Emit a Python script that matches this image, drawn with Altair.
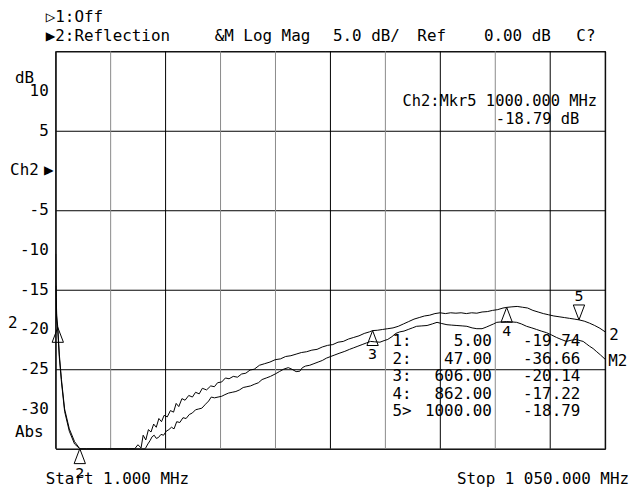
import altair as alt
import pandas as pd

# ---------------- data ----------------
# Data trace "2" (upper curve)
trace_mhz = [1, 1.5, 2, 3, 5, 8, 12, 18, 27, 37, 47, 60, 80, 100, 120, 140, 152, 158, 164, 168,
             173, 178, 183, 188, 193, 198, 203, 208, 214, 220, 226, 231, 236, 242, 248, 255, 262,
             268, 275, 281, 289, 297, 304, 310, 318, 325, 332, 340, 348, 356, 364, 372, 380, 390,
             400, 410, 420, 430, 440, 450, 460, 470, 480, 490, 500, 510, 520, 530, 540, 550, 560,
             570, 580, 590, 600, 606, 615, 625, 635, 645, 655, 665, 675, 685, 695, 705, 715, 725,
             735, 745, 755, 765, 775, 785, 795, 805, 815, 825, 835, 845, 855, 862, 872, 882, 892,
             902, 912, 922, 932, 942, 952, 962, 972, 982, 992, 1000, 1010, 1020, 1030, 1040, 1050]
trace_db = [-10.5, -14.0, -16.0, -18.3, -19.74, -23.2, -26.3, -30.0, -32.5, -34.1, -36.66, -38.5,
            -40.0, -41.0, -39.0, -37.0, -35.3, -34.5, -34.9, -33.3, -33.9, -32.6, -32.9, -31.9,
            -32.3, -31.2, -31.6, -30.8, -31.0, -30.2, -30.4, -29.3, -29.7, -28.7, -28.9, -28.3,
            -28.5, -27.9, -28.1, -27.4, -27.6, -27.1, -27.2, -26.7, -26.6, -26.1, -26.2, -25.9,
            -26.0, -25.6, -25.5, -25.1, -25.0, -24.5, -24.3, -24.1, -23.8, -23.7, -23.4, -23.3,
            -23.1, -22.9, -22.8, -22.6, -22.5, -22.2, -22.0, -21.9, -21.6, -21.5, -21.2, -21.0,
            -20.8, -20.5, -20.3, -20.14, -20.1, -20.0, -19.9, -19.8, -19.6, -19.3, -19.0, -18.7,
            -18.5, -18.3, -18.2, -18.0, -17.9, -18.0, -17.9, -17.95, -17.9, -18.0, -17.9, -17.95,
            -17.8, -17.75, -17.6, -17.5, -17.3, -17.22, -17.15, -17.1, -17.2, -17.3, -17.6, -17.8,
            -18.0, -18.15, -18.3, -18.4, -18.5, -18.6, -18.7, -18.79, -18.95, -19.2, -19.5,
            -19.85, -20.3]

# Memory trace "M2" (lower curve)
mem_mhz = [1, 2, 3, 5, 8, 12, 18, 27, 37, 47, 60, 100, 140, 165, 172, 177, 181, 185, 189, 193,
           197, 202, 207, 212, 217, 222, 227, 232, 238, 244, 250, 256, 262, 268, 274, 280, 287,
           293, 298, 304, 311, 318, 324, 331, 338, 345, 352, 359, 366, 373, 380, 388, 395, 403,
           411, 420, 428, 436, 445, 452, 460, 467, 472, 478, 486, 494, 502, 510, 518, 526, 534,
           542, 553, 562, 570, 578, 586, 594, 602, 610, 620, 628, 635, 643, 650, 658, 666, 674,
           682, 690, 700, 710, 720, 729, 738, 748, 757, 767, 777, 786, 796, 805, 815, 823, 830,
           837, 843, 852, 862, 872, 881, 890, 900, 910, 919, 928, 938, 948, 957, 966, 976, 985,
           995, 1002, 1008, 1014, 1020, 1027, 1033, 1041, 1050]
mem_db = [-14.5, -17.0, -18.8, -20.2, -23.6, -26.6, -30.3, -32.8, -34.4, -36.9, -39.0, -41.0,
          -39.0, -37.0, -35.3, -34.4, -34.0, -33.5, -33.3, -33.7, -33.6, -33.2, -33.3, -32.8,
          -32.6, -32.3, -32.5, -31.6, -31.7, -31.1, -31.2, -30.7, -30.5, -30.1, -30.0, -29.9,
          -29.4, -29.0, -28.5, -28.6, -28.5, -28.4, -28.2, -28.0, -27.9, -27.8, -27.6, -27.3,
          -27.2, -27.1, -26.9, -26.7, -26.3, -26.1, -25.9, -25.6, -25.3, -25.0, -24.8, -25.0,
          -25.3, -25.25, -24.8, -24.6, -24.5, -24.3, -24.1, -23.9, -23.6, -23.4, -23.2, -23.0,
          -22.75, -22.5, -22.3, -22.1, -21.9, -21.7, -21.5, -21.55, -21.6, -21.4, -21.25, -20.9,
          -20.5, -20.3, -20.2, -20.0, -19.8, -19.6, -19.55, -19.5, -19.3, -19.1, -19.25, -19.4,
          -19.45, -19.5, -19.55, -19.6, -19.8, -19.9, -19.9, -19.7, -19.5, -19.3, -19.1, -19.05,
          -19.0, -19.05, -19.1, -19.3, -19.6, -19.8, -20.0, -20.2, -20.4, -20.7, -21.0, -21.25,
          -21.5, -21.35, -21.25, -21.4, -21.5, -21.8, -22.1, -22.4, -22.75, -23.2, -23.75]

marker_mhz = [5, 47, 606, 862, 1000]
marker_db = [-19.74, -36.66, -20.14, -17.22, -18.79]
marker_dir = ["up", "up", "up", "up", "down"]
marker_label = ["", "2", "3", "4", "5"]

grid_mhz = [1.0, 105.9, 210.8, 315.7, 420.6, 525.5, 630.4, 735.3, 840.2, 945.1, 1050.0]
grid_tone = ["#000000", "#8a8a8a", "#000000", "#8a8a8a", "#8a8a8a", "#000000",
             "#8a8a8a", "#000000", "#8a8a8a", "#000000", "#000000"]
grid_db = [15, 10, 5, 0, -5, -10, -15, -20, -25, -30, -35]
ytick_db = [10, 5, -5, -10, -15, -20, -25, -30]
ytick_text = ["10", "5", "-5", "-10", "-15", "-20", "-25", "-30"]

table_id = ["1:", "2:", "3:", "4:", "5>"]
table_freq = ["5.00", "47.00", "606.00", "862.00", "1000.00"]
table_val = ["-19.74", "-36.66", "-20.14", "-17.22", "-18.79"]

# ---------------- chart ----------------
FONT = "DejaVu Sans Mono"
FS = 16
W, H = 553, 400

xs = alt.Scale(domain=[1, 1050], nice=False, zero=False)
ys = alt.Scale(domain=[-35, 15], nice=False, zero=False, clamp=True)
yax = alt.Axis(values=grid_db, grid=True, labels=False, ticks=False, domain=False, title=None,
               gridColor="#000000", gridWidth=1, gridOpacity=1)

vgrid = alt.Chart(pd.DataFrame({"mhz": grid_mhz, "tone": grid_tone})).mark_rule(strokeWidth=1).encode(
    x=alt.X("mhz:Q", scale=xs, axis=None),
    color=alt.Color("tone:N", scale=None, legend=None),
)

df = pd.concat([
    pd.DataFrame({"mhz": trace_mhz, "db": trace_db, "series": "2"}),
    pd.DataFrame({"mhz": mem_mhz, "db": mem_db, "series": "M2"}),
])

lines = alt.Chart(df).mark_line(color="black", strokeWidth=1, clip=True).encode(
    x=alt.X("mhz:Q", scale=xs, axis=None),
    y=alt.Y("db:Q", scale=ys, axis=yax),
    detail="series:N",
    order="mhz:Q",
)

UP = "M0,0L-0.38,1L0.38,1Z"
DOWN = "M0,0L-0.38,-1L0.38,-1Z"
mk = pd.DataFrame({"mhz": marker_mhz, "db": marker_db, "dir": marker_dir, "lab": marker_label})
tri = alt.Chart(mk).mark_point(size=900, filled=False, color="black", strokeWidth=1, opacity=1).encode(
    x=alt.X("mhz:Q", scale=xs),
    y=alt.Y("db:Q", scale=ys),
    shape=alt.Shape("dir:N", scale=alt.Scale(domain=["up", "down"], range=[UP, DOWN]), legend=None),
)
lab_up = alt.Chart(mk).transform_filter("datum.dir == 'up'").mark_text(
    dy=24, font=FONT, fontSize=15, color="black").encode(
    x=alt.X("mhz:Q", scale=xs), y=alt.Y("db:Q", scale=ys), text="lab:N")
lab_dn = alt.Chart(mk).transform_filter("datum.dir == 'down'").mark_text(
    dy=-24, font=FONT, fontSize=15, color="black").encode(
    x=alt.X("mhz:Q", scale=xs), y=alt.Y("db:Q", scale=ys), text="lab:N")

yt = pd.DataFrame({"db": ytick_db, "t": ytick_text})
ylab = alt.Chart(yt).mark_text(align="right", font=FONT, fontSize=FS, color="black").encode(
    x=alt.value(-7), y=alt.Y("db:Q", scale=ys), text="t:N")

# pixel-positioned annotation texts (relative to plot origin): text, x, y, align, size
notes = [
    ("\u25b71:Off", -10, -34, "left", FS),
    ("\u25b62:Reflection", -10, -15, "left", FS),
    ("&M Log Mag", 160, -15, "left", FS),
    ("5.0 dB/", 279, -15, "left", FS),
    ("Ref", 364, -15, "left", FS),
    ("0.00 dB", 431, -15, "left", FS),
    ("C?", 524, -15, "left", FS),
    ("dB", -41, 27, "left", FS),
    ("Ch2", -17, 120, "right", FS),
    ("\u25b6", -7, 120, "center", FS),
    ("Abs", -41, 383, "left", FS),
    ("2", -48, 274, "left", FS),
    ("Ch2:Mkr5 1000.000 MHz", 349, 50, "left", 15.5),
    ("-18.79 dB", 443, 68, "left", 15.5),
    ("2", 557, 286, "left", FS),
    ("M2", 556, 312, "left", FS),
    ("Start 1.000 MHz", -10, 431, "left", FS),
    ("Stop 1 050.000 MHz", 577, 431, "right", FS),
]
for i in range(5):
    ry = 292 + 17.6 * i
    notes.append((table_id[i], 339, ry, "left", FS))
    notes.append((table_freq[i], 439, ry, "right", FS))
    notes.append((table_val[i], 528, ry, "right", FS))

note_layers = []
for t, px, py, al, fs in notes:
    note_layers.append(
        alt.Chart(pd.DataFrame({"t": [t]})).mark_text(
            align=al, baseline="middle", font=FONT, fontSize=fs, color="black"
        ).encode(x=alt.value(px), y=alt.value(py), text="t:N")
    )

chart = alt.layer(vgrid, lines, tri, lab_up, lab_dn, ylab, *note_layers).properties(
    width=W, height=H,
    padding={"left": 48, "top": 42, "right": 26, "bottom": 40},
    autosize=alt.AutoSizeParams(type="none"),
    background="white",
).configure_view(stroke="black", strokeWidth=1)

chart.save("out.html", embed_options={"renderer": "svg", "actions": False})
